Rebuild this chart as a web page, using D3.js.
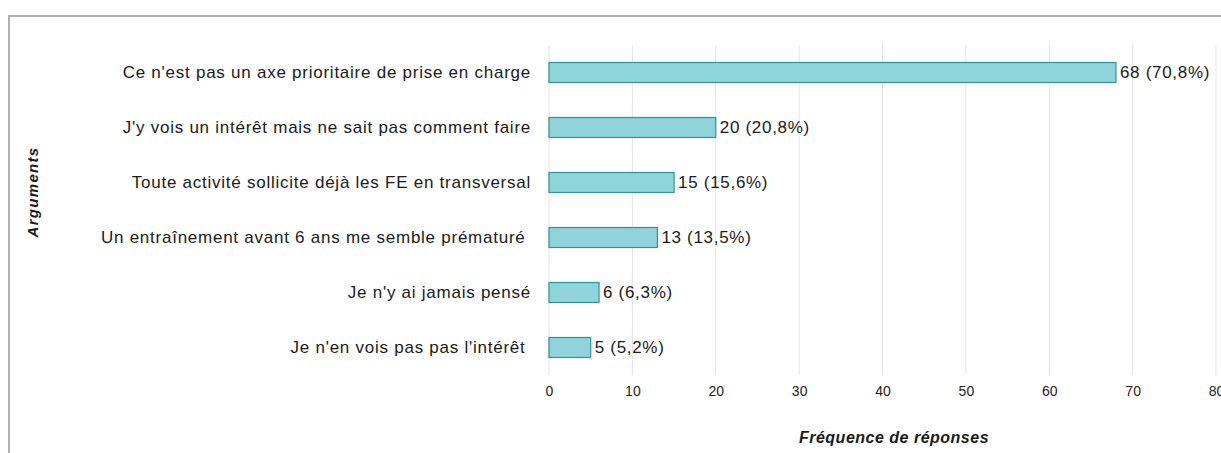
<!DOCTYPE html>
<html>
<head>
<meta charset="utf-8">
<script src="https://cdn.jsdelivr.net/npm/d3@7"></script>
<style>
  body { margin: 0; background: #fff; }
  svg { display: block; font-family: "Liberation Sans", Arial, sans-serif; }
</style>
</head>
<body>
<div id="chart"></div>
<script>
// Données
const categories = [
  "Ce n'est pas un axe prioritaire de prise en charge",
  "J'y vois un intérêt mais ne sait pas comment faire",
  "Toute activité sollicite déjà les FE en transversal",
  "Un entraînement avant 6 ans me semble prématuré ",
  "Je n'y ai jamais pensé",
  "Je n'en vois pas pas l'intérêt "
];
const valeurs = [68, 20, 15, 13, 6, 5];
const pourcentages = ["70,8%", "20,8%", "15,6%", "13,5%", "6,3%", "5,2%"];
const ticks = [0, 10, 20, 30, 40, 50, 60, 70, 80];

const width = 1221, height = 453;

const svg = d3.select("#chart")
  .append("svg")
  .attr("width", width)
  .attr("height", height);

// Cadre gris (haut et gauche)
svg.append("path")
  .attr("d", `M9,${height} V16 H${width}`)
  .attr("fill", "none")
  .attr("stroke", "#b0b0b0")
  .attr("stroke-width", 2);

const x = d3.scaleLinear().domain([0, 80]).range([549, 1216]);
const y = d3.scaleBand()
  .domain(categories)
  .range([45, 375])
  .paddingInner(0.636)
  .paddingOuter(0.318);

// Grille verticale
svg.append("g")
  .selectAll("line")
  .data(ticks)
  .join("line")
  .attr("x1", d => x(d))
  .attr("x2", d => x(d))
  .attr("y1", 45)
  .attr("y2", 375)
  .attr("stroke", "#e4e4e4")
  .attr("stroke-width", 1);

// Axe des x (libellés seulement)
const axeX = svg.append("g")
  .attr("transform", "translate(0,375)")
  .call(d3.axisBottom(x).tickValues(ticks).tickSize(0).tickPadding(11));
axeX.select(".domain").remove();
axeX.selectAll("text")
  .attr("font-size", 14)
  .attr("font-family", "Liberation Sans, Arial, sans-serif")
  .attr("fill", "#222");

// Barres
svg.append("g")
  .selectAll("rect")
  .data(valeurs)
  .join("rect")
  .attr("x", x(0))
  .attr("y", (d, i) => y(categories[i]))
  .attr("width", d => x(d) - x(0))
  .attr("height", y.bandwidth())
  .attr("fill", "#8fd4da")
  .attr("stroke", "#2f9593")
  .attr("stroke-width", 1.2);

// Libellés des catégories (espaces finaux conservés)
svg.append("g")
  .selectAll("text")
  .data(categories)
  .join("text")
  .attr("x", 531)
  .attr("y", d => y(d) + y.bandwidth() / 2)
  .attr("dy", "0.35em")
  .attr("text-anchor", "end")
  .attr("font-size", 17)
  .attr("letter-spacing", 0.75)
  .attr("fill", "#1a1a1a")
  .style("white-space", "pre")
  .text(d => d);

// Valeurs à droite des barres
svg.append("g")
  .selectAll("text")
  .data(valeurs)
  .join("text")
  .attr("x", d => x(d) + 4)
  .attr("y", (d, i) => y(categories[i]) + y.bandwidth() / 2)
  .attr("dy", "0.35em")
  .attr("font-size", 17)
  .attr("letter-spacing", 0.7)
  .attr("fill", "#1a1a1a")
  .text((d, i) => `${d} (${pourcentages[i]})`);

// Titres des axes
svg.append("text")
  .attr("x", 894)
  .attr("y", 443)
  .attr("text-anchor", "middle")
  .attr("font-size", 16)
  .attr("letter-spacing", 0.5)
  .attr("font-weight", "bold")
  .attr("font-style", "italic")
  .attr("fill", "#1a1a1a")
  .text("Fréquence de réponses");

svg.append("text")
  .attr("transform", "translate(38,192) rotate(-90)")
  .attr("text-anchor", "middle")
  .attr("font-size", 15)
  .attr("letter-spacing", 1.3)
  .attr("font-weight", "bold")
  .attr("font-style", "italic")
  .attr("fill", "#1a1a1a")
  .text("Arguments");
</script>
</body>
</html>
